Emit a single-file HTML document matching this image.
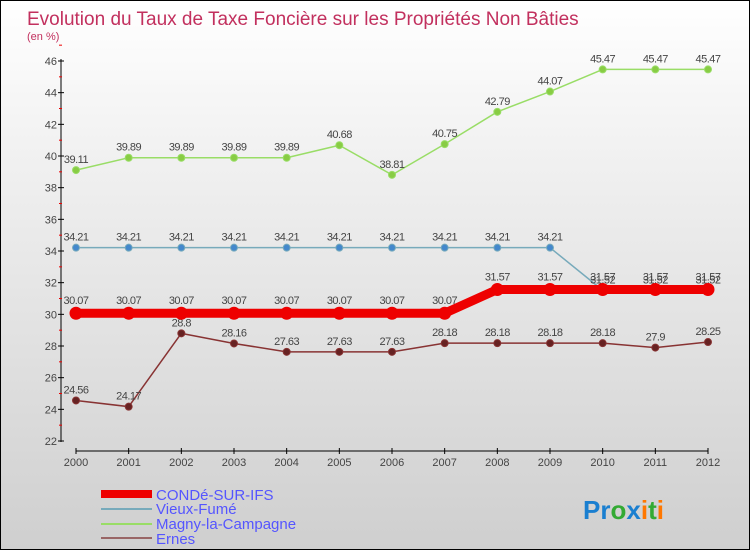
<!DOCTYPE html>
<html><head><meta charset="utf-8"><style>
body{margin:0}
#c{width:750px;height:550px;position:relative;box-sizing:border-box;border:1px solid #000;background:linear-gradient(#fff,#f0f0f0 30%,#cfcfcf);font-family:"Liberation Sans",sans-serif;overflow:hidden}
svg text{font-family:"Liberation Sans",sans-serif}
</style></head><body>
<div id="c">
<svg id="s" width="750" height="550">
<text x="26" y="24" font-size="19" fill="#c2305e">Evolution du Taux de Taxe Foncière sur les Propriétés Non Bâties</text>
<text x="26" y="39" font-size="11" fill="#c2305e">(en %)</text>
<g id="legend">
<rect x="100" y="489" width="51" height="8" fill="#e00"/>
<text x="155" y="499" font-size="15" fill="#55f">CONDé-SUR-IFS</text>
<rect x="100" y="507" width="51" height="2" fill="#7ab"/>
<text x="155" y="513" font-size="15" fill="#55f">Vieux-Fumé</text>
<rect x="100" y="522" width="51" height="2" fill="#9d6"/>
<text x="155" y="528" font-size="15" fill="#55f">Magny-la-Campagne</text>
<rect x="100" y="536" width="51" height="2" fill="#966"/>
<text x="155" y="543" font-size="15" fill="#55f">Ernes</text>
</g>
<text x="582" y="518" font-size="26" font-weight="bold"><tspan fill="#1a7fd0">Pr</tspan><tspan fill="#3a3">o</tspan><tspan fill="#1a7fd0">x</tspan><tspan fill="#f70">i</tspan><tspan fill="#3a3">t</tspan><tspan fill="#f70">i</tspan></text>
</svg>
</div>
<script>
const years=[2000,2001,2002,2003,2004,2005,2006,2007,2008,2009,2010,2011,2012];
const yTicks=[22,24,26,28,30,32,34,36,38,40,42,44,46];
const conde=[30.07,30.07,30.07,30.07,30.07,30.07,30.07,30.07,31.57,31.57,31.57,31.57,31.57];
const vieux=[34.21,34.21,34.21,34.21,34.21,34.21,34.21,34.21,34.21,34.21,31.52,31.52,31.52];
const magny=[39.11,39.89,39.89,39.89,39.89,40.68,38.81,40.75,42.79,44.07,45.47,45.47,45.47];
const ernes=[24.56,24.17,28.8,28.16,27.63,27.63,27.63,28.18,28.18,28.18,28.18,27.9,28.25];
const NS="http://www.w3.org/2000/svg",s=document.getElementById('s');
const X=i=>75+i*(707-75)/(years.length-1);
const Y=v=>440-(v-22)*(380/24);
function el(t,a,p){const e=document.createElementNS(NS,t);for(const k in a)e.setAttribute(k,a[k]);(p||s).appendChild(e);return e;}
// axes
let ax=el('line',{x1:60,y1:58,x2:60,y2:441,stroke:'#000'});


yTicks.forEach(v=>{el('line',{x1:57,x2:63,y1:Y(v),y2:Y(v),stroke:'#000'});
el('line',{x1:58,x2:61,y1:Y(v+1),y2:Y(v+1),stroke:'#e00'});
const t=el('text',{x:56,y:Y(v)+4,'font-size':11,fill:'#444','text-anchor':'end'});t.textContent=v;

});
let xa=el('line',{x1:75,y1:450,x2:707,y2:450,stroke:'#000'});


years.forEach((y,i)=>{el('line',{x1:X(i),x2:X(i),y1:447,y2:453,stroke:'#000'});
const t=el('text',{x:X(i),y:465,'font-size':11,fill:'#444','text-anchor':'middle'});t.textContent=y;

});
function series(d,name,color,w,r,fill,labelOff){
 const g=el('g',{});
 
 
 el('polyline',{points:d.map((v,i)=>X(i)+','+Y(v)).join(' '),fill:'none',stroke:color,'stroke-width':w,'stroke-linejoin':'round'},g);
 d.forEach((v,i)=>{const c=el('circle',{cx:X(i),cy:Y(v),r:r,fill:fill,stroke:color},g);
 
 
 const t=el('text',{x:X(i),y:Y(v)+labelOff,'font-size':11,fill:'#444','text-anchor':'middle','letter-spacing':'-0.5'},g);t.textContent=v;
 
 });
}
series(magny,'magny','#9d6',1.5,3.5,'#8c4',-7);
series(vieux,'vieux','#7ab',1.5,3.5,'#48c',-7);
series(ernes,'ernes','#833',1.5,3.5,'#622',-7);
series(conde,'conde','#e00',9,6,'#e00',-9);
</script>
</body></html>
